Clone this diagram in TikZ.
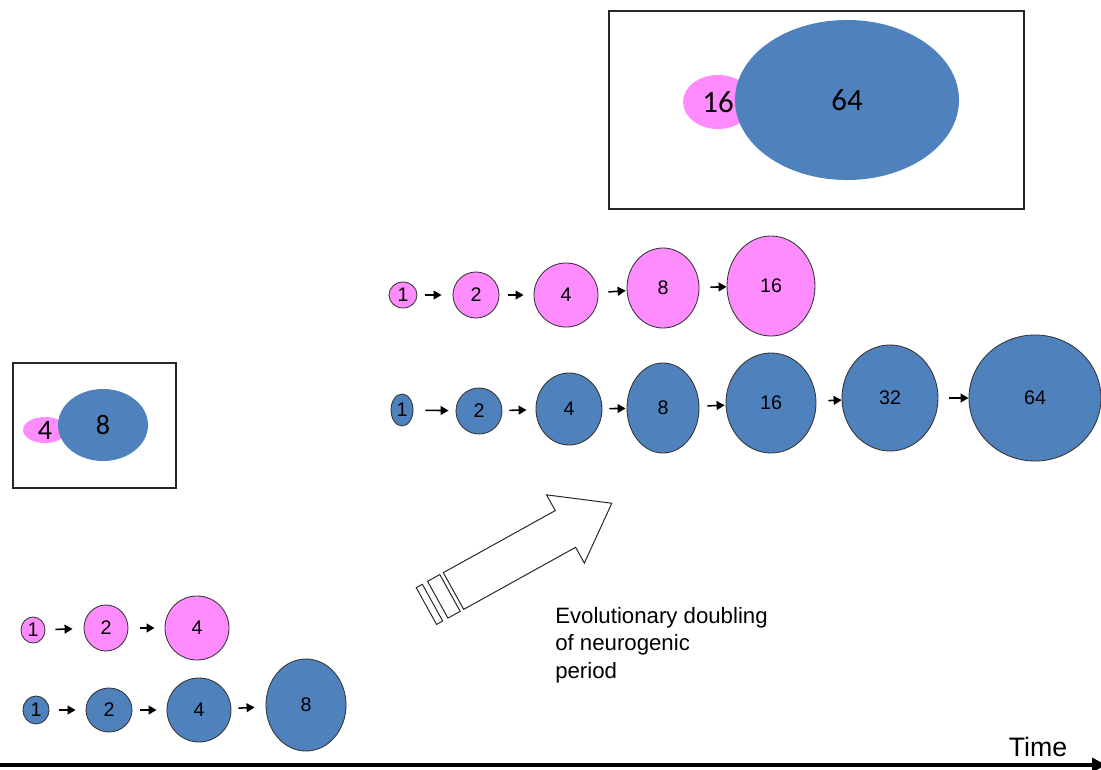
\documentclass[tikz,border=0pt]{standalone}
\usepackage{fontspec}
\setmainfont{Liberation Sans}
\newfontfamily\boxfont{Carlito}
\usetikzlibrary{arrows.meta,positioning,shapes.geometric}
\definecolor{cellpink}{HTML}{FF8CFF}
\definecolor{cellblue}{HTML}{4F81BD}
\tikzset{cell/.style 2 args={ellipse,draw=black!80,line width=0.6pt,inner sep=0pt,minimum width=#1*0.05cm,minimum height=#2*0.05cm,font=\fontsize{14}{14}\selectfont},pcell/.style 2 args={cell={#1}{#2},fill=cellpink},bcell/.style 2 args={cell={#1}{#2},fill=cellblue},blob/.style 2 args={ellipse,inner sep=0pt,minimum width=#1*0.05cm,minimum height=#2*0.05cm},nextarrow/.style 2 args={-{Triangle[length=2mm,width=2.2mm]},line width=1.1pt,shorten <=#1*0.025cm,shorten >=#2*0.025cm},panel/.style={draw=black!85,line width=0.8pt},hollow/.style={draw=black!85,line width=0.7pt,line join=miter},bignum/.style={font=\boxfont\fontsize{#1}{#1}\selectfont}}

\begin{document}
\begin{tikzpicture}[x=0.025cm,y=-0.025cm]
\useasboundingbox (0,0) rectangle (1101,770);
\draw[panel] (609,11) rectangle (1024,209);
\node[blob={35}{27},fill=cellpink,bignum=22](late16)at(718,102){16};
\node[blob={112}{80},fill=cellblue,bignum=22](late64)at(847,100){64};
\draw[panel] (13,363) rectangle (176,488);
\node[blob={22}{13},fill=cellpink,bignum=20](early4)at(45,430){4};
\node[blob={45}{36},fill=cellblue,bignum=20](early8)at(103,425){8};
\node[pcell={14}{13}](p1)at(403,295){1};
\node[pcell={23}{23}](p2)at(476,295){2};
\node[pcell={32}{32}](p3)at(566,295){4};
\node[pcell={36}{40}](p4)at(663,288){8};
\node[pcell={44}{50}](p5)at(771,286){16};
\node[bcell={11}{16}](b1)at(402,410){1};
\node[bcell={23}{23}](b2)at(479,411){2};
\node[bcell={33}{36}](b3)at(569,409){4};
\node[bcell={36}{45}](b4)at(663,408){8};
\node[bcell={45}{50}](b5)at(771,403){16};
\node[bcell={48}{53}](b6)at(890,398){32};
\node[bcell={66}{63}](b7)at(1035,398){64};
\node[pcell={12}{13}](q1)at(33,630){1};
\node[pcell={22}{23}](q2)at(106,628){2};
\node[pcell={32}{32}](q3)at(197,628){4};
\node[bcell={13}{14}](r1)at(36,710){1};
\node[bcell={23}{22}](r2)at(109,710){2};
\node[bcell={32}{32}](r3)at(199,710){4};
\node[bcell={40}{46}](r4)at(306,705){8};
\draw[nextarrow={8}{11}](p1)--(p2);\draw[nextarrow={9}{10}](p2)--(p3);
\draw[nextarrow={10}{1}](p3)--(p4);\draw[nextarrow={11}{0}](p4)--(p5);
\draw[nextarrow={12}{7}](b1)--(b2);\draw[nextarrow={7}{9}](b2)--(b3);
\draw[nextarrow={7}{1}](b3)--(b4);\draw[nextarrow={8}{1}](b4)--(b5);
\draw[nextarrow={12}{0}](b5)--(b6);\draw[nextarrow={11}{0}](b6)--(b7);
\draw[nextarrow={10}{11}](q1)--(q2);\draw[nextarrow={12}{10}](q2)--(q3);
\draw[nextarrow={10}{10}](r1)--(r2);\draw[nextarrow={8}{10}](r2)--(r3);
\draw[nextarrow={7}{11}](r3)--(r4);
\begin{scope}[shift={(453.5,591)},rotate=29]
\draw[hollow] (0,-21)--(128,-21)--(128,-39)--(181,0)--(128,39)--(128,21)--(0,21)--cycle;
\draw[hollow] (-18,-21) rectangle (-4,21);
\draw[hollow] (-31,-21) rectangle (-24,21);
\end{scope}
\node[anchor=north west,inner sep=0pt,align=left,font=\fontsize{15.8}{19.5}\selectfont](note)at(555,607){Evolutionary doubling\\of neurogenic\\period};
\node[font=\fontsize{19}{19}\selectfont](time)at(1038,747){Time};
\coordinate(t0)at(0,765);\coordinate(t1)at(1106,765);
\draw[-{Triangle[length=3.5mm,width=3.5mm]},line width=2.6pt](t0)--(t1);
\end{tikzpicture}
\end{document}
